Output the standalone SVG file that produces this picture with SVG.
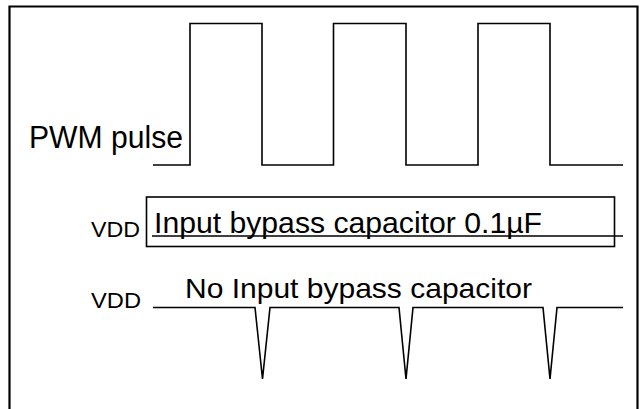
<svg xmlns="http://www.w3.org/2000/svg" width="641" height="409" viewBox="0 0 641 409">
<style>
.w{fill:none;stroke:#000;stroke-width:1.6;stroke-linejoin:miter}
.f{fill:none;stroke:#000;stroke-width:2.2}
.t{font-family:"Liberation Sans",Arial,sans-serif;fill:#000}
</style>
<rect width="641" height="409" fill="#fff"/>
<g id="frame"><path class="f" d="M9.5,420 V6.5 H637.5 V420"/></g>
<g id="pwm">
<path class="w" d="M153,165 H190 V23.5 H262 V165 H333.5 V23.5 H406 V165 H478 V23.5 H550 V165 H623"/>
<text class="t" x="29" y="148" font-size="31" textLength="154" lengthAdjust="spacingAndGlyphs">PWM pulse</text>
</g>
<g id="with-cap">
<text class="t" x="91" y="237" font-size="22" textLength="49" lengthAdjust="spacingAndGlyphs">VDD</text>
<rect class="w" x="146.5" y="197" width="468" height="49.5"/>
<text class="t" x="154" y="232.5" font-size="30" textLength="388" lengthAdjust="spacingAndGlyphs">Input bypass capacitor 0.1µF</text>
<path class="w" d="M152,236 H623"/>
</g>
<g id="no-cap">
<text class="t" x="91" y="308" font-size="22" textLength="50" lengthAdjust="spacingAndGlyphs">VDD</text>
<text class="t" x="185" y="298" font-size="28" textLength="347" lengthAdjust="spacingAndGlyphs">No Input bypass capacitor</text>
<path class="w" d="M153,307.5 H255 L262.5,379 L270,307.5 H399 L406,379 L413,307.5 H543 L550,379 L557,307.5 H623"/>
</g>
</svg>
